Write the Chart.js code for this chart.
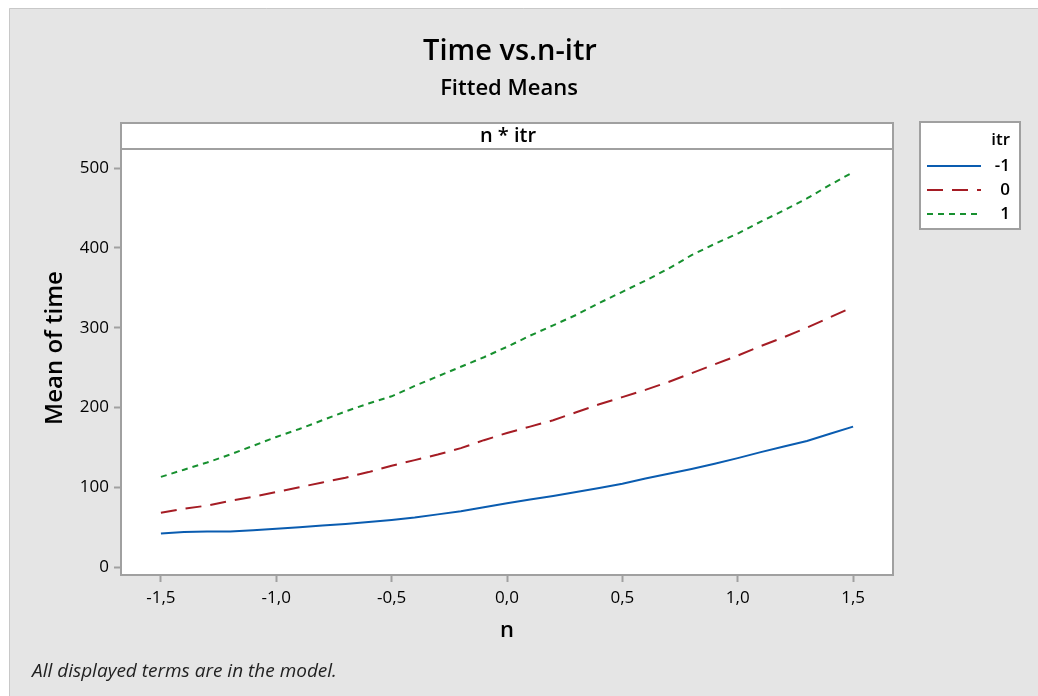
<!DOCTYPE html>
<html>
<head>
<meta charset="utf-8">
<title>Time vs.n-itr</title>
<script src="https://cdn.jsdelivr.net/npm/chart.js@4.4.0/dist/chart.umd.min.js"></script>
<style>
  body { margin: 0; background: #fff; }
  canvas { display: block; }
</style>
</head>
<body>
<canvas id="chart" width="1038" height="696"></canvas>
<script>
// n levels (x axis) and fitted mean of time for each itr level
const nValues = [-1.5, -1.4, -1.3, -1.2, -1.1, -1.0, -0.9, -0.8, -0.7, -0.6, -0.5,
    -0.4, -0.3, -0.2, -0.1, 0.0, 0.1, 0.2, 0.3, 0.4, 0.5,
    0.6, 0.7, 0.8, 0.9, 1.0, 1.1, 1.2, 1.3, 1.4, 1.5];
const timeItrMinus1 = [42, 44, 44.5, 44.5, 46, 48, 50, 52, 54, 56.5, 59,
    62, 66, 70, 75, 80, 84.5, 89, 94, 99, 104.5,
    111, 117, 123, 129.5, 136.5, 144, 151, 158, 167, 176];
const timeItr0 = [68, 73, 77, 83, 88, 94, 100, 106, 112, 119, 127,
    134, 141, 149, 159, 168, 176, 184, 194, 204, 213,
    222, 232, 243, 254, 265, 277, 288, 300, 313, 326];
const timeItr1 = [113, 122, 131, 141, 152, 163, 173, 184, 195, 205, 214,
    227, 239, 251, 263, 276, 290, 303, 316, 331, 345,
    359, 374, 391, 405, 418, 433, 447, 462, 479, 495];
const itrLevels = ["-1", "0", "1"];
const xTicks = [-1.5, -1.0, -0.5, 0.0, 0.5, 1.0, 1.5];
const yTicks = [0, 100, 200, 300, 400, 500];

const FONT = "'Open Sans', 'Noto Sans', sans-serif";
const colors = ["#0a5cb0", "#a51c24", "#17902f"];
const dashes = [[], [16, 9], [6, 5]];

function toPoints(ys) {
    return nValues.map((x, i) => ({ x: x, y: ys[i] }));
}

// background, panel header, legend box, titles and footnote
const frame = {
    id: "frame",
    beforeDraw(chart) {
        const ctx = chart.ctx;
        const area = chart.chartArea;
        ctx.save();
        ctx.fillStyle = "#ffffff";
        ctx.fillRect(0, 0, chart.width, chart.height);
        ctx.fillStyle = "#e5e5e5";
        ctx.fillRect(9, 8, chart.width - 9, chart.height - 8);
        ctx.strokeStyle = "#c8c8c8";
        ctx.lineWidth = 1;
        ctx.beginPath();
        ctx.moveTo(9.5, chart.height);
        ctx.lineTo(9.5, 8.5);
        ctx.lineTo(chart.width, 8.5);
        ctx.stroke();

        // plot panel + header strip
        ctx.fillStyle = "#ffffff";
        ctx.fillRect(area.left, 123, area.right - area.left, area.bottom - 123);

        ctx.fillStyle = "#000";
        ctx.textAlign = "center";
        ctx.textBaseline = "middle";
        ctx.font = "600 29px " + FONT;
        ctx.fillText("Time vs.n-itr", 510, 52);
        ctx.font = "600 22px " + FONT;
        ctx.fillText("Fitted Means", 509, 89);
        ctx.font = "600 20px " + FONT;
        ctx.fillText("n * itr", 508, 136);

        ctx.font = "600 22px " + FONT;
        ctx.fillText("n", 507, 631);
        ctx.save();
        ctx.translate(55, 348);
        ctx.rotate(-Math.PI / 2);
        ctx.font = "600 24px " + FONT;
        ctx.fillText("Mean of time", 0, 0);
        ctx.restore();

        ctx.textAlign = "left";
        ctx.font = "italic 19px " + FONT;
        ctx.fillStyle = "#222";
        ctx.fillText("All displayed terms are in the model.", 32, 672);
        ctx.restore();
    },
    afterDraw(chart) {
        const ctx = chart.ctx;
        const area = chart.chartArea;
        ctx.save();
        ctx.strokeStyle = "#a0a0a0";
        ctx.lineWidth = 2;
        ctx.strokeRect(area.left, 123, area.right - area.left, area.bottom - 123);
        ctx.beginPath();
        ctx.moveTo(area.left, area.top);
        ctx.lineTo(area.right, area.top);
        ctx.stroke();

        // legend
        ctx.fillStyle = "#ffffff";
        ctx.fillRect(920, 122, 100, 107);
        ctx.strokeRect(920, 122, 100, 107);
        ctx.fillStyle = "#000";
        ctx.textAlign = "right";
        ctx.textBaseline = "middle";
        ctx.font = "600 17px " + FONT;
        ctx.fillText("itr", 1010, 140);
        chart.data.datasets.forEach((ds, i) => {
            const y = 166 + i * 24;
            ctx.strokeStyle = ds.borderColor;
            ctx.lineWidth = 2;
            ctx.setLineDash(ds.borderDash);
            ctx.beginPath();
            ctx.moveTo(927, y);
            ctx.lineTo(981, y);
            ctx.stroke();
            ctx.setLineDash([]);
            ctx.fillText(itrLevels[i], 1010, y);
        });
        ctx.restore();
    }
};

const ctx = document.getElementById("chart").getContext("2d");
new Chart(ctx, {
    type: "line",
    data: {
        datasets: itrLevels.map((lvl, i) => ({
            label: lvl,
            data: toPoints([timeItrMinus1, timeItr0, timeItr1][i]),
            borderColor: colors[i],
            borderWidth: 2,
            borderDash: dashes[i],
            pointRadius: 0,
            tension: 0,
            fill: false
        }))
    },
    options: {
        responsive: false,
        animation: false,
        layout: { padding: { left: 0, right: 145, top: 149, bottom: 0 } },
        plugins: {
            legend: { display: false },
            tooltip: { enabled: false }
        },
        scales: {
            x: {
                type: "linear",
                min: -1.673,
                max: 1.673,
                afterBuildTicks: s => { s.ticks = xTicks.map(v => ({ value: v })); },
                afterFit: s => { s.height = 121; },
                grid: { drawOnChartArea: false, tickLength: 7, tickColor: "#a0a0a0", tickWidth: 2 },
                border: { display: false },
                ticks: {
                    padding: 6,
                    color: "#000",
                    font: { family: FONT, size: 17 },
                    callback: v => v.toFixed(1).replace(".", ",")
                }
            },
            y: {
                min: -10,
                max: 524,
                afterBuildTicks: s => { s.ticks = yTicks.map(v => ({ value: v })); },
                afterFit: s => { s.width = 121; },
                grid: { drawOnChartArea: false, tickLength: 7, tickColor: "#a0a0a0", tickWidth: 2 },
                border: { display: false },
                ticks: {
                    padding: 5,
                    color: "#000",
                    font: { family: FONT, size: 17 }
                }
            }
        }
    },
    plugins: [frame]
});
</script>
</body>
</html>
